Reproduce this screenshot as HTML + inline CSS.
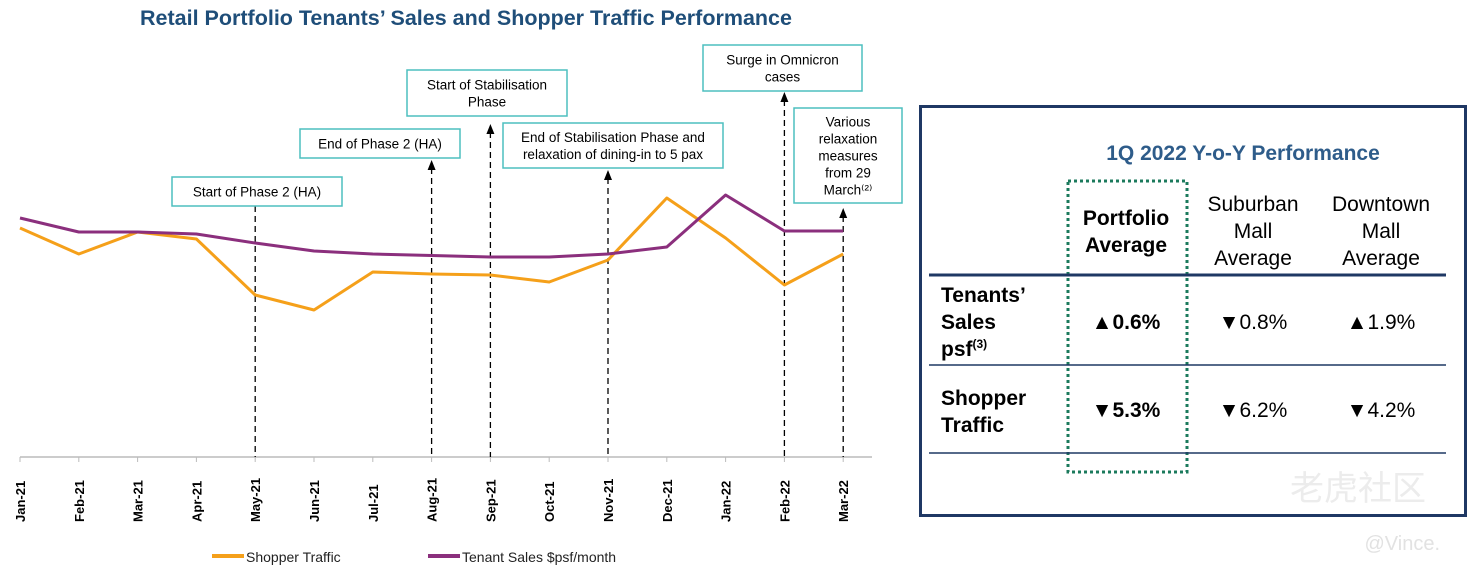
<!DOCTYPE html>
<html><head><meta charset="utf-8"><style>
body{margin:0;width:1470px;height:576px;background:#fff;overflow:hidden;font-family:"Liberation Sans",Arial,sans-serif;}
svg{position:absolute;left:0;top:0}
</style></head><body>
<svg width="1470" height="576" id="chart">
<text x="466" y="25" text-anchor="middle" font-size="21.5" font-weight="bold" fill="#1f4e79">Retail Portfolio Tenants’ Sales and Shopper Traffic Performance</text>
<g id="axis"></g>
<g id="annot"></g>
<g id="series"></g>
<g>
<line x1="212" y1="556" x2="244" y2="556" stroke="#f5a01a" stroke-width="4"/>
<text x="246" y="562" font-size="14" fill="#222">Shopper Traffic</text>
<line x1="428" y1="556" x2="460" y2="556" stroke="#8b2f7d" stroke-width="4"/>
<text x="462" y="562" font-size="14" fill="#222">Tenant Sales $psf/month</text>
</g>
<g>
<rect x="920.5" y="106.5" width="545" height="409" fill="none" stroke="#1f3864" stroke-width="3"/>
<text x="1243" y="160" text-anchor="middle" font-size="21" font-weight="bold" fill="#2e5c8a">1Q 2022 Y-o-Y Performance</text>
<rect x="1068" y="181" width="119" height="291" fill="none" stroke="#1b7a5c" stroke-width="3" stroke-dasharray="3,3"/>
<line x1="929" y1="275" x2="1446" y2="275" stroke="#1f3864" stroke-width="3"/>
<line x1="929" y1="365" x2="1446" y2="365" stroke="#1f3864" stroke-width="1.5"/>
<line x1="929" y1="453" x2="1446" y2="453" stroke="#1f3864" stroke-width="1.5"/>
<g font-size="21" fill="#000" text-anchor="middle">
<text x="1126" y="225" font-weight="bold">Portfolio</text>
<text x="1126" y="252" font-weight="bold">Average</text>
<text x="1253" y="211">Suburban</text><text x="1253" y="238">Mall</text><text x="1253" y="265">Average</text>
<text x="1381" y="211">Downtown</text><text x="1381" y="238">Mall</text><text x="1381" y="265">Average</text>
<text x="1126" y="329" font-weight="bold">▲0.6%</text>
<text x="1253" y="329">▼0.8%</text>
<text x="1381" y="329">▲1.9%</text>
<text x="1126" y="417" font-weight="bold">▼5.3%</text>
<text x="1253" y="417">▼6.2%</text>
<text x="1381" y="417">▼4.2%</text>
</g>
<g font-size="21" font-weight="bold" fill="#000">
<text x="941" y="302">Tenants’</text><text x="941" y="329">Sales</text><text x="941" y="356">psf<tspan font-size="12" dy="-8">(3)</tspan></text>
<text x="941" y="405">Shopper</text><text x="941" y="432">Traffic</text>
</g>
<text x="1290" y="500" font-size="34" fill="#ececec" font-family="'Liberation Sans','Noto Sans CJK SC',sans-serif">老虎社区</text>
<text x="1440" y="550" text-anchor="end" font-size="20" fill="#e2e2e2">@Vince.</text>
</g>
</svg>
<script>
const months=["Jan-21","Feb-21","Mar-21","Apr-21","May-21","Jun-21","Jul-21","Aug-21","Sep-21","Oct-21","Nov-21","Dec-21","Jan-22","Feb-22","Mar-22"];
const shopperTraffic=[91.6,81.2,90,87.2,64.8,58.8,74,73.2,72.8,70,78.8,103.6,87.6,68.8,81.2];
const tenantSales=[95.6,90,90,89.2,85.6,82.4,81.2,80.6,80,80,81.2,84,104.8,90.4,90.4];
const annotations=[
 {i:4,text:["Start of Phase 2 (HA)"],arrowY:188,box:[172,177,170,29]},
 {i:7,text:["End of Phase 2 (HA)"],arrowY:160,box:[300,129,160,29]},
 {i:8,text:["Start of Stabilisation","Phase"],arrowY:124,box:[407,70,160,46]},
 {i:10,text:["End of Stabilisation Phase and","relaxation of dining-in to 5 pax"],arrowY:170,box:[503,123,220,45]},
 {i:13,text:["Surge in Omnicron","cases"],arrowY:92,box:[703,45,159,46]},
 {i:14,text:["Various","relaxation","measures","from 29","March⁽²⁾"],arrowY:208,box:[794,108,108,95]}
];
const NS="http://www.w3.org/2000/svg";
const x0=20,step=58.8,yBase=457;
const xS=i=>x0+i*step, yS=v=>yBase-2.5*v;
function mk(t,a,p){const e=document.createElementNS(NS,t);for(const k in a)e.setAttribute(k,a[k]);p.appendChild(e);return e;}
const ax=document.getElementById('axis');
mk('line',{x1:x0,y1:yBase,x2:872,y2:yBase,stroke:'#bbb','stroke-width':1.5},ax);
months.forEach((m,i)=>{
 const x=xS(i);
 mk('line',{x1:x,y1:yBase,x2:x,y2:yBase+5,stroke:'#bbb'},ax);
 const t=mk('text',{x:0,y:0,transform:`translate(${x+5},${yBase+65}) rotate(-90)`,'font-size':13,'font-weight':'bold',fill:'#000'},ax);
 
 
 t.textContent=m;
});
const an=document.getElementById('annot');
annotations.forEach(a=>{
 const x=xS(a.i);
 const l=mk('line',{x1:x,y1:a.arrowY+8,x2:x,y2:yBase,stroke:'#000','stroke-width':1.3,'stroke-dasharray':'6,4'},an);
 
 
 mk('polygon',{points:`${x-4},${a.arrowY+10} ${x+4},${a.arrowY+10} ${x},${a.arrowY}`,fill:'#000'},an);
 const [bx,by,bw,bh]=a.box;
 const r=mk('rect',{x:bx,y:by,width:bw,height:bh,fill:'#fff',stroke:'#4dbfbf','stroke-width':1.5},an);
 
 
 const n=a.text.length,lh=17,start=by+bh/2-(n-1)*lh/2+5;
 a.text.forEach((s,k)=>{const t=mk('text',{x:bx+bw/2,y:start+k*lh,'text-anchor':'middle','font-size':13.5,fill:'#000'},an);t.textContent=s;});
});
const sg=document.getElementById('series');
function line(vals,color,name){
 const p=mk('polyline',{points:vals.map((v,i)=>xS(i)+','+yS(v)).join(' '),fill:'none',stroke:color,'stroke-width':3,'stroke-linejoin':'round'},sg);
 
 
}
line(shopperTraffic,'#f5a01a','shopper-traffic-line');
line(tenantSales,'#8b2f7d','tenant-sales-line');
</script>
</body></html>
